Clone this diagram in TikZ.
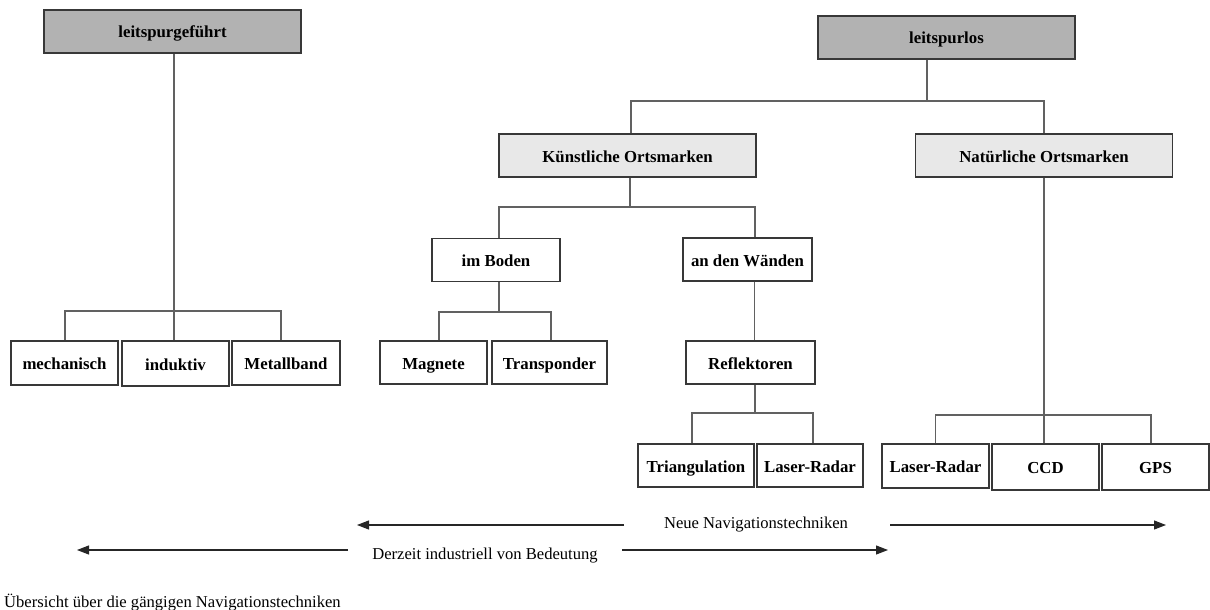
\documentclass[tikz,border=0pt]{standalone}
\usepackage{fontspec}
\setmainfont{Liberation Serif}
\usetikzlibrary{arrows.meta, calc}
\tikzset{
  kasten/.style={draw=black!78, line width=1.1pt, minimum height=43pt, inner sep=0pt, text height=13pt, text depth=0pt, font=\fontsize{16.8}{20}\selectfont\bfseries},
  kastendunkel/.style={kasten, fill=black!30, minimum width=257pt},
  kastenhell/.style={kasten, fill=black!9, minimum width=257pt},
  linea/.style={draw=black!62, line width=1.1pt},
  freccia/.style={draw=black!85, line width=1.1pt, -{Triangle[length=12pt,width=9pt]}},
  scritta/.style={font=\fontsize{16.6}{20}\selectfont, inner sep=0pt, text height=12pt, text depth=0pt}
}
\begin{document}
\begin{tikzpicture}[x=1pt,y=-1pt]
        \useasboundingbox (0,0) rectangle (1210,610);
        %riquadri principali
        \node[kastendunkel] (lg) at (172.5,31.5) {leitspurgeführt};
        \node[kastendunkel] (ll) at (946.5,37.5) {leitspurlos};
        %ortsmarken
        \node[kastenhell] (ko) at (627.5,155.5) {Künstliche Ortsmarken};
        \node[kastenhell] (no) at (1044,155.5) {Natürliche Ortsmarken};
        %riquadri intermedi
        \node[kasten, minimum width=128pt] (bo) at (496,260) {im Boden};
        \node[kasten, minimum width=129pt] (wa) at (747.5,259.5) {an den Wänden};
        \node[kasten, minimum width=107pt] (ma) at (433.5,362.5) {Magnete};
        \node[kasten, minimum width=115pt] (tr) at (549.5,362.5) {Transponder};
        \node[kasten, minimum width=129pt] (re) at (750.5,362.5) {Reflektoren};
        %riquadri finali
        \node[kasten, minimum width=116pt] (tri) at (696,465.5) {Triangulation};
        \node[kasten, minimum width=106pt] (lra) at (810,465.5) {Laser-Radar};
        \node[kasten, minimum width=107pt, minimum height=44pt] (me) at (64.5,363) {mechanisch};
        \node[kasten, minimum width=107pt, minimum height=45pt] (in) at (175.5,363.5) {induktiv};
        \node[kasten, minimum width=108pt, minimum height=44pt] (mb) at (286,363) {Metallband};
        \node[kasten, minimum width=107pt, minimum height=44pt] (lrb) at (935.5,466) {Laser-Radar};
        \node[kasten, minimum width=107pt, minimum height=46pt] (ccd) at (1045.5,467) {CCD};
        \node[kasten, minimum width=107pt, minimum height=46pt] (gps) at (1155.5,467) {GPS};
        %punti di diramazione
        \coordinate (j1) at (174,311);
        \coordinate (j2) at (927,101);
        \coordinate (j3) at (630,207);
        \coordinate (j4) at (499,312);
        \coordinate (j5) at (755,413);
        \coordinate (j6) at (1044,415);
        %collegamenti leitspurgeführt
        \draw[linea] (lg.south -| j1) -- (j1);
        \draw[linea] ([xshift=0.5pt]me.north) |- (j1) -| ([xshift=-5pt]mb.north);
        \draw[linea] (j1) -- (in.north -| j1);
        %collegamenti leitspurlos
        \draw[linea] (ll.south -| j2) -- (j2);
        \draw[linea] ([xshift=3.5pt]ko.north) |- (j2) -| (no.north);
        \draw[linea] (ko.south -| j3) -- (j3);
        \draw[linea] ([xshift=3pt]bo.north) |- (j3) -| ([xshift=7.5pt]wa.north);
        \draw[linea] (bo.south -| j4) -- (j4);
        \draw[linea] ([xshift=5.5pt]ma.north) |- (j4) -| ([xshift=1.5pt]tr.north);
        \draw[linea] ([xshift=7pt]wa.south) -- ([xshift=4pt]re.north);
        \draw[linea] (re.south -| j5) -- (j5);
        \draw[linea] ([xshift=-4pt]tri.north) |- (j5) -| ([xshift=3pt]lra.north);
        \draw[linea] (no.south) -- (j6);
        \draw[linea] (lrb.north) |- (j6) -| ([xshift=-4.5pt]gps.north);
        \draw[linea] (j6) -- (ccd.north -| j6);
        %frecce e scritte
        \node[scritta] (neue) at (756,522) {Neue Navigationstechniken};
        \node[scritta] (derzeit) at (485,553) {Derzeit industriell von Bedeutung};
        \coordinate (na) at (624,525);
        \coordinate (nb) at (357,525);
        \coordinate (nc) at (890,525);
        \coordinate (nd) at (1166,525);
        \coordinate (da) at (348,550);
        \coordinate (db) at (77,550);
        \coordinate (dc) at (622,550);
        \coordinate (dd) at (888,550);
        \draw[freccia] (na) -- (nb);
        \draw[freccia] (nc) -- (nd);
        \draw[freccia] (da) -- (db);
        \draw[freccia] (dc) -- (dd);
        %didascalia
        \node[scritta, anchor=west] (titel) at (4,601) {Übersicht über die gängigen Navigationstechniken};
\end{tikzpicture}
\end{document}
